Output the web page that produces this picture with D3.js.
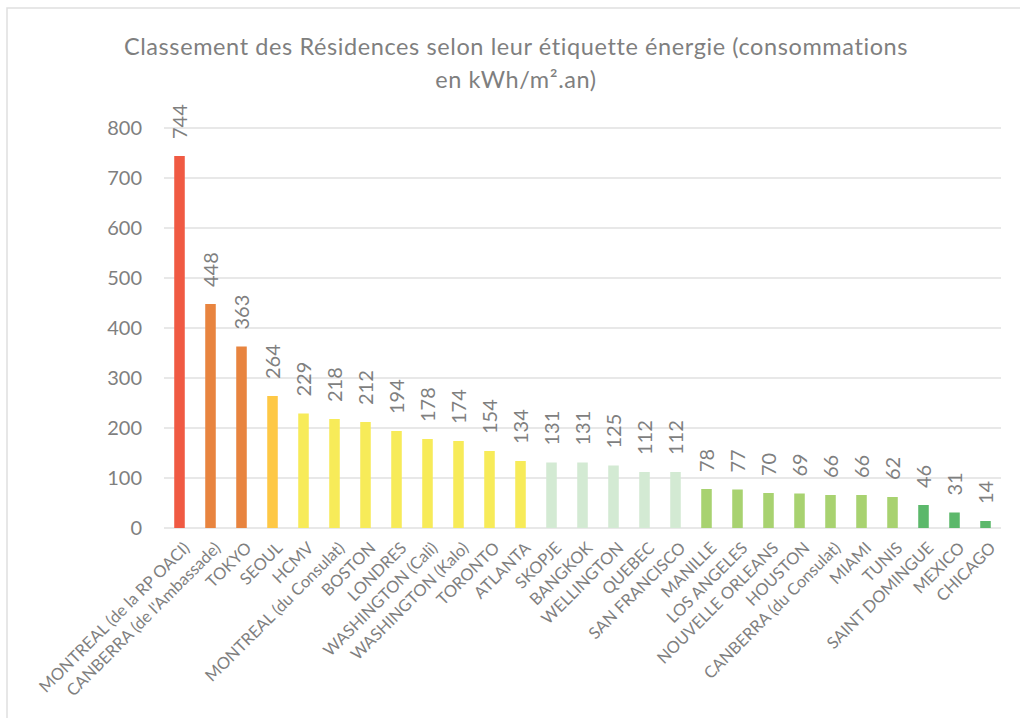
<!DOCTYPE html>
<html>
<head>
<meta charset="utf-8">
<title>Classement des Résidences</title>
<script src="https://cdn.jsdelivr.net/npm/d3@7"></script>
<style>
  body { margin: 0; background: #fff; }
  text { font-family: Lato, "Open Sans", sans-serif; fill: #7f7f7f; }
</style>
</head>
<body>
<svg width="1020" height="718"></svg>
<script>
var residences = ["MONTREAL (de la RP OACI)", "CANBERRA (de l'Ambassade)", "TOKYO", "SEOUL", "HCMV",
  "MONTREAL (du Consulat)", "BOSTON", "LONDRES", "WASHINGTON (Cali)", "WASHINGTON (Kalo)", "TORONTO",
  "ATLANTA", "SKOPJE", "BANGKOK", "WELLINGTON", "QUEBEC", "SAN FRANCISCO", "MANILLE", "LOS ANGELES",
  "NOUVELLE ORLEANS", "HOUSTON", "CANBERRA (du Consulat)", "MIAMI", "TUNIS", "SAINT DOMINGUE",
  "MEXICO", "CHICAGO"];
var conso = [744, 448, 363, 264, 229, 218, 212, 194, 178, 174, 154, 134, 131, 131, 125, 112, 112,
  78, 77, 70, 69, 66, 66, 62, 46, 31, 14];
// energy label class of each bar
var classe = ["G", "F", "F", "E", "D", "D", "D", "D", "D", "D", "D", "D", "C", "C", "C", "C", "C",
  "B", "B", "B", "B", "B", "B", "B", "A", "A", "A"];
var classeColors = {G: "#f05a43", F: "#e8843f", E: "#fec845", D: "#f7eb59", C: "#d3ead3", B: "#a8d270", A: "#5cb86b"};
var yTicks = [0, 100, 200, 300, 400, 500, 600, 700, 800];
var title = ["Classement des Résidences selon leur étiquette énergie (consommations", "en kWh/m².an)"];

var svg = d3.select("svg"),
    margin = {top: 128, right: 19, bottom: 190, left: 164},
    width = +svg.attr("width") - margin.left - margin.right,
    height = +svg.attr("height") - margin.top - margin.bottom;

// outer chart frame (cropped)
svg.append("path")
  .attr("d", "M7,730 V8 H1030")
  .attr("fill", "none")
  .attr("stroke", "#e0e0e0")
  .attr("stroke-width", 1.5);

svg.append("text")
  .attr("text-anchor", "middle")
  .style("font-size", "23.5px")
  .style("letter-spacing", "0.6px")
  .selectAll("tspan").data(title).enter().append("tspan")
  .attr("x", 516)
  .attr("y", function(d, i) { return 55 + i * 33; })
  .text(function(d) { return d; });

var g = svg.append("g").attr("transform", "translate(" + margin.left + "," + margin.top + ")");

var x = d3.scaleBand().domain(residences).range([0, width]).paddingInner(0.66).paddingOuter(0.33);
var y = d3.scaleLinear().domain([0, 800]).range([height, 0]);

g.append("g").selectAll("line").data(yTicks).enter().append("line")
  .attr("x1", 0).attr("x2", width)
  .attr("y1", function(d) { return y(d); })
  .attr("y2", function(d) { return y(d); })
  .attr("stroke", "#e0e0e0")
  .attr("stroke-width", 1.5);

g.append("g").selectAll("text").data(yTicks).enter().append("text")
  .attr("x", -22)
  .attr("y", function(d) { return y(d); })
  .attr("dy", "0.35em")
  .attr("text-anchor", "end")
  .style("font-size", "20px")
  .text(function(d) { return d; });

g.append("g").selectAll("rect").data(residences).enter().append("rect")
  .attr("x", function(d) { return x(d); })
  .attr("width", x.bandwidth())
  .attr("y", function(d, i) { return y(conso[i]); })
  .attr("height", function(d, i) { return height - y(conso[i]); })
  .attr("fill", function(d, i) { return classeColors[classe[i]]; });

g.append("g").selectAll("text").data(residences).enter().append("text")
  .attr("transform", function(d, i) {
    return "translate(" + (x(d) + x.bandwidth() / 2) + "," + (y(conso[i]) - 17) + ") rotate(-90)";
  })
  .attr("dy", "0.35em")
  .style("font-size", "20px")
  .text(function(d, i) { return conso[i]; });

g.append("g").selectAll("text").data(residences).enter().append("text")
  .attr("transform", function(d) {
    return "translate(" + (x(d) + x.bandwidth() / 2 + 7) + "," + (height + 17) + ") rotate(-45)";
  })
  .attr("text-anchor", "end")
  .attr("dy", "0.35em")
  .style("font-size", "16.5px")
  .text(function(d) { return d; });
</script>
</body>
</html>
